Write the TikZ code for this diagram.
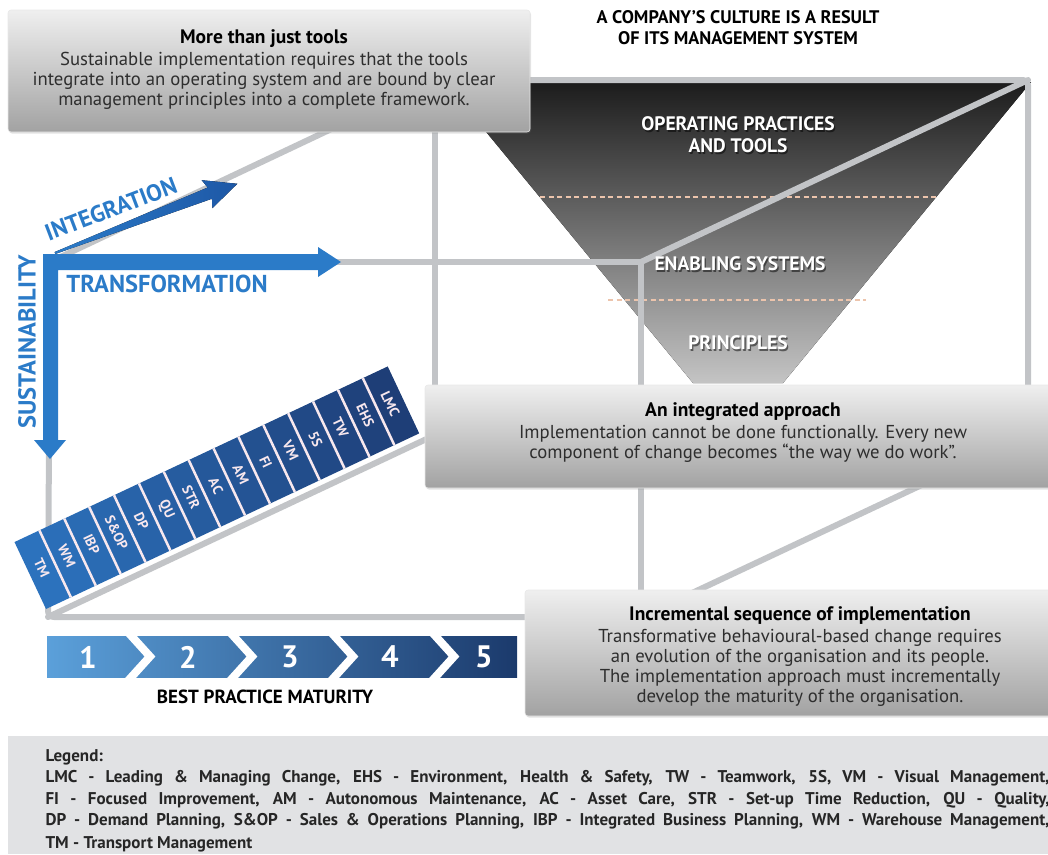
\documentclass[tikz,border=0pt]{standalone}
\usepackage{fontspec}
\setmainfont{PT Sans}
\usetikzlibrary{
  arrows.meta,
  positioning,
  calc,
  shadows,
}
\definecolor{framegray}{HTML}{C2C4C7}
\definecolor{boxtop}{HTML}{EFEFEF}
\definecolor{boxbottom}{HTML}{A2A2A2}
\definecolor{bodytext}{HTML}{2E2E2E}
\definecolor{arrowblue}{HTML}{2B7BC8}
\definecolor{integblue}{HTML}{1E58A6}
\definecolor{barlight}{HTML}{2C72BD}
\definecolor{bardark}{HTML}{1E3D76}
\definecolor{steplight}{HTML}{5BA0DA}
\definecolor{stepdark}{HTML}{1B3A6C}
\definecolor{funneltop}{HTML}{1C1C1C}
\definecolor{funnelbottom}{HTML}{C4C4C4}
\definecolor{legendbg}{HTML}{E1E2E4}
\definecolor{dashpeach}{HTML}{ECC4AC}
\definecolor{cellwhite}{HTML}{F8E8EE}

\begin{document}
\begin{tikzpicture}[
    x=1pt, y=-1pt,
    frame/.style={draw=framegray, line width=6pt, line cap=round, line join=round},
    infobox/.style={rounded corners=3pt, top color=boxtop, bottom color=boxbottom,
      draw=white!82!gray, line width=0.6pt, inner sep=0pt,
      drop shadow={opacity=0.22, shadow xshift=1pt, shadow yshift=-1.5pt}},
    boxtext/.style={align=center, text=bodytext, font=\fontsize{18.7}{20}\selectfont},
    funnellabel/.style={align=center, text=white, font=\fontsize{19.5}{22}\selectfont\bfseries},
    bluelabel/.style={text=arrowblue, font=\fontsize{24.5}{26}\selectfont\bfseries},
    cell/.style={text=cellwhite, rotate=-64.8, font=\fontsize{14}{14}\selectfont\bfseries},
    legendtext/.style={anchor=base west, text=black!85, font=\fontsize{17}{20}\selectfont\bfseries},
  ]
  \useasboundingbox (0,0) rectangle (1048,854);

  % cube corners (front face and back face)
  \coordinate (ftl) at (50,262);
  \coordinate (ftr) at (641,262);
  \coordinate (fbr) at (641,617);
  \coordinate (fbl) at (48,617);
  \coordinate (btl) at (435,80);
  \coordinate (btr) at (1028,80);
  \coordinate (bbr) at (1028,435);
  \coordinate (bbl) at (435,435);

  % funnel
  \fill[top color=funneltop, bottom color=funnelbottom]
    (445,82) -- (1031,82) -- (783,383) -- (693,383) -- cycle;
  \draw[dashpeach, line width=1.3pt, dash pattern=on 5pt off 3.5pt] (540,197) -- (936,197);
  \draw[dashpeach, line width=1.3pt, dash pattern=on 5pt off 3.5pt] (608,300) -- (866,300);

  % wire frame
  \draw[frame] (btl) -- (bbl);
  \draw[frame] (bbl) -- (bbr);
  \draw[frame, rounded corners=5pt] (btl) -- (btr) -- (bbr);
  \draw[frame] (ftl) -- (btl);
  \draw[frame] (ftr) -- (btr);
  \draw[frame] (fbr) -- (bbr);
  \draw[frame] (fbl) -- (bbl);
  \draw[frame] (ftl) -- (ftr) -- (fbr);
  \draw[frame, rounded corners=6pt] (ftl) -- (fbl) -- (fbr);

  % layers of the funnel
  \foreach \pos/\txt [count=\k] in {{(738,135)}/{OPERATING PRACTICES\\AND TOOLS},
      {(740,264)}/{ENABLING SYSTEMS}, {(738,343)}/{PRINCIPLES}} {
    \node[funnellabel, text=black, opacity=0.5, xshift=1.3pt, yshift=-1.3pt] at \pos {\txt};
    \node[funnellabel] (layer\k) at \pos {\txt};
  }

  % transformation and sustainability arrows
  \fill[arrowblue] (43,254) -- (318,254) -- (318,247) -- (341,262) -- (318,277)
    -- (318,270) -- (58,270) -- (58,440) -- (66,440) -- (50,459) -- (34,440)
    -- (43,440) -- cycle;
  % integration arrow
  \begin{scope}[shift={(55,253)}, rotate=20.8]
    \fill[left color=arrowblue, right color=integblue]
      (0,-1) -- (166,-7) -- (163,-16) -- (195,0) -- (163,14) -- (166,5) -- (0,1) -- cycle;
  \end{scope}

  \node[bluelabel, rotate=20.8, font=\fontsize{23.5}{26}\selectfont\bfseries] (integlabel) at (111,209) {INTEGRATION};
  \node[bluelabel] (translabel) at (167,284) {TRANSFORMATION};
  \node[bluelabel, rotate=90] (sustlabel) at (27,342) {SUSTAINABILITY};

  % tools laid on the cube edge
  \begin{scope}[shift={(46,609)}, rotate=25.2]
    \foreach \lab [count=\i from 0] in {TM,WM,IBP,S\&OP,DP,QU,STR,AC,AM,FI,VM,5S,TW,EHS,LMC} {
      \pgfmathsetmacro\shade{100-\i*7}
      \fill[barlight!\shade!bardark] (\i*27.5,0) rectangle ++(27.5,-74);
      \node[cell] (cell\i) at (\i*27.5+13.75,-39) {\lab};
    }
    \foreach \i in {1,...,14}
      \draw[cellwhite, line width=2.5pt] (\i*27.5,0) -- ++(0,-74);
  \end{scope}

  % maturity steps
  \begin{scope}
    \clip (47,636) rectangle (517,677);
    \fill[left color=steplight, right color=stepdark] (47,636) rectangle (517,677);
    \foreach \x in {126,228,329,430}
      \draw[white, line width=8pt] (\x,630) -- (\x+24,656.5) -- (\x,683);
  \end{scope}
  \foreach \x [count=\n] in {88,188,290,390,484}
    \node[text=white, font=\fontsize{31}{31}\selectfont\bfseries] (step\n) at (\x,657) {\n};
  \node[font=\fontsize{19}{20}\selectfont\bfseries] (maturity) at (265,697) {BEST PRACTICE MATURITY};

  % text boxes
  \node[infobox, minimum width=522pt, minimum height=122pt] (toolsbox) at (269,71) {};
  \node[infobox, minimum width=627pt, minimum height=103pt] (approachbox) at (738.5,436.5) {};
  \node[infobox, minimum width=527pt, minimum height=126pt] (sequencebox) at (788.5,653) {};

  \node[boxtext] (toolstext) at (264,69.5) {{\bfseries\color{black}\fontsize{19.5}{20}\selectfont More than just tools}\\[2pt]
    Sustainable implementation requires that the tools\\
    integrate into an operating system and are bound by clear\\
    management principles into a complete framework.};
  \node[boxtext] (approachtext) at (743,433) {{\bfseries\color{black}\fontsize{19.5}{20}\selectfont An integrated approach}\\[2pt]
    Implementation cannot be done functionally. Every new\\
    component of change becomes “the way we do work”.};
  \node[boxtext] (sequencetext) at (800,657) {{\bfseries\color{black}\fontsize{19.5}{20}\selectfont Incremental sequence of implementation}\\[2pt]
    Transformative behavioural-based change requires\\
    an evolution of the organisation and its people.\\
    The implementation approach must incrementally\\
    develop the maturity of the organisation.};

  \node[align=center, font=\fontsize{18.2}{21}\selectfont\bfseries] (culture) at (738,28)
    {A COMPANY’S CULTURE IS A RESULT\\OF ITS MANAGEMENT SYSTEM};

  % legend
  \fill[legendbg] (8,736) rectangle (1048,854);
  \node[legendtext] (legend) at (42,761) {Legend:};
  \node[legendtext] (legend1) at (42,782) {\makebox[1004pt][s]{LMC - Leading \& Managing Change, EHS - Environment, Health \& Safety, TW - Teamwork, 5S, VM - Visual Management,}};
  \node[legendtext] (legend2) at (42,804) {\makebox[1004pt][s]{FI - Focused Improvement, AM - Autonomous Maintenance, AC - Asset Care, STR - Set-up Time Reduction, QU - Quality,}};
  \node[legendtext] (legend3) at (42,825) {\makebox[1004pt][s]{DP - Demand Planning, S\&OP - Sales \& Operations Planning, IBP - Integrated Business Planning, WM - Warehouse Management,}};
  \node[legendtext] (legend4) at (42,848) {TM - Transport Management};
\end{tikzpicture}
\end{document}
